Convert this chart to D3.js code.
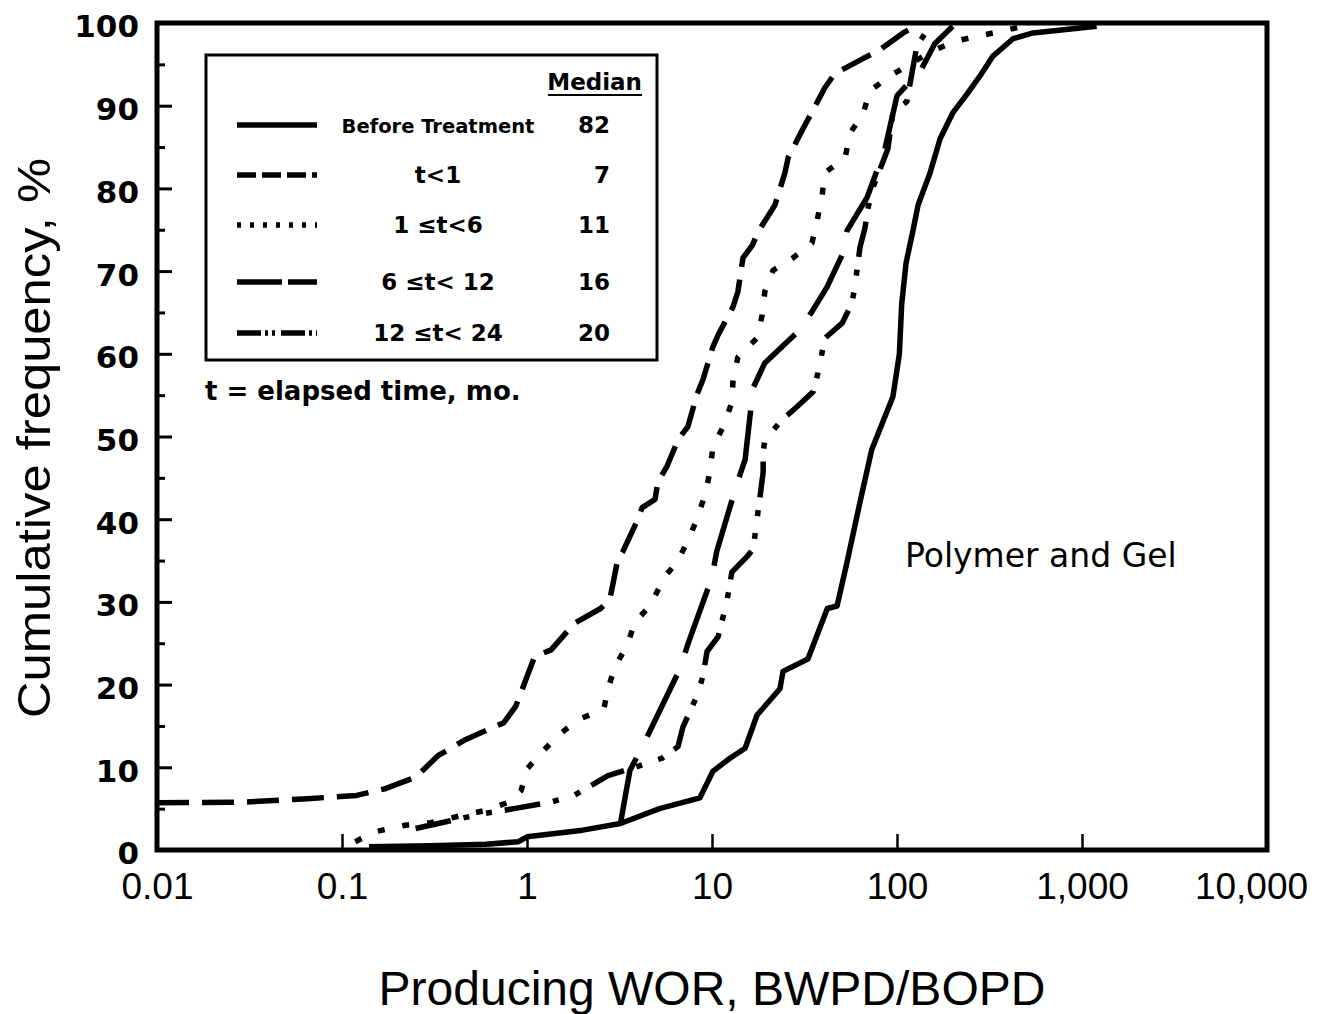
<!DOCTYPE html>
<html>
<head>
<meta charset="utf-8">
<script src="https://cdn.jsdelivr.net/npm/d3@7"></script>
<style>
body { margin: 0; background: #fff; }
</style>
</head>
<body>
<div id="chart"></div>
<script>
// tick values / labels
var xTicks = [0.01, 0.1, 1, 10, 100, 1000, 10000];
var xTickLabels = ['0.01', '0.1', '1', '10', '100', '1,000', '10,000'];
var yTicks = [0, 10, 20, 30, 40, 50, 60, 70, 80, 90, 100];
var yMinorTicks = [5, 15, 25, 35, 45, 55, 65, 75, 85, 95];

// cumulative frequency curves, [WOR, %]
var beforeTreatment = [
    [0.14, 0.4], [0.3, 0.5], [0.6, 0.7], [0.9, 1.0], [1.0, 1.6], [2.0, 2.4], [3.2, 3.2],
    [5.2, 5.0], [8.6, 6.3], [10.1, 9.5], [12.5, 11.1], [15.1, 12.3], [17.5, 16.3],
    [23.3, 19.5], [24.2, 21.6], [33, 23.1], [42, 29.2], [47.4, 29.5], [53.7, 34.8],
    [63, 42], [73, 48.4], [95, 54.8], [103, 60], [106, 66], [112, 71], [122, 74.9],
    [130, 78], [151, 81.9], [171, 86], [201, 89.2], [239, 91.4], [281, 93.6], [330, 96],
    [424, 98.1], [543, 98.8], [894, 99.3], [1200, 99.6]
];
var tLess1 = [
    [0.01, 5.7], [0.03, 5.8], [0.065, 6.2], [0.12, 6.6], [0.17, 7.4], [0.25, 8.8],
    [0.33, 11.4], [0.47, 13.4], [0.75, 15.4], [0.87, 17.4], [1.1, 23.4], [1.35, 24.2],
    [1.8, 27.4], [2.5, 29.2], [2.81, 30.4], [3.1, 35.2], [3.3, 36.1], [3.94, 39.8],
    [4.19, 41.4], [4.92, 42.4], [5.1, 44.5], [5.71, 46.4], [6.55, 49.6], [7.41, 51.2],
    [8.3, 55.1], [8.94, 56.9], [10.1, 60.8], [10.8, 62.3], [13.0, 65.7], [13.8, 67.5],
    [14.7, 71.6], [16.5, 73.1], [17.7, 74.7], [21.9, 78.0], [24.8, 81.9], [25.8, 83.7],
    [31.0, 87.2], [33.9, 88.8], [40.8, 92.2], [46.2, 93.9], [65.5, 95.7], [78.9, 96.6],
    [108, 98.8], [130, 99.8]
];
var t1to6 = [
    [0.118, 1.0], [0.15, 2.2], [0.22, 3.0], [0.3, 3.3], [0.45, 4.2], [0.6, 4.8], [0.8, 5.8],
    [0.93, 7.2], [1.0, 9.8], [1.2, 11.8], [1.5, 14], [1.9, 15.8], [2.6, 17], [2.74, 19.5],
    [2.99, 22.2], [3.47, 24.7], [3.84, 27.6], [4.62, 29.5], [5.57, 33.1], [6.47, 34.8],
    [7.33, 37.2], [8.3, 40.0], [9.17, 43.0], [9.75, 45.7], [10.1, 48.7], [11.5, 51.2],
    [12.8, 54.1], [13.0, 56.9], [13.8, 59.6], [17.5, 61.9], [18.6, 64.5], [19.3, 67.5],
    [21.4, 70.1], [27.4, 71.6], [34.7, 73.4], [37.0, 76.1], [39.4, 79.2], [40.8, 81.9],
    [52.4, 83.7], [55.8, 86.7], [65.5, 89.0], [71.4, 91.8], [91.6, 93.6], [155, 96.6],
    [206, 97.8], [274, 98.4], [365, 99.0], [524, 99.8]
];
var t6to12 = [
    [3.2, 3.2], [3.6, 9.6], [4.0, 11.6], [4.51, 13.9], [6.71, 21.9], [7.41, 24.9], [10, 33.0],
    [10.6, 36.1], [13.6, 44.2], [15.1, 47.2], [16.7, 55.9], [19.3, 58.9], [29.9, 62.9],
    [34.7, 65.1], [41.9, 68.1], [51.1, 72.2], [53.7, 74.9], [68.9, 78.9], [86.1, 84.8],
    [100, 91.2], [136, 94.5], [160, 97.5], [200, 99.6]
];
var t12to24 = [
    [0.25, 2.6], [0.38, 3.5], [0.55, 4.3], [0.85, 5.0], [1.35, 5.8], [1.8, 6.6], [2.3, 8.0],
    [2.74, 9.0], [4.08, 10.2], [5.37, 11.1], [6.55, 12.5], [6.97, 14.9], [8.4, 18.9],
    [8.94, 21.1], [9.4, 24.0], [10.8, 25.8], [12.05, 30.1], [12.8, 33.6], [15.5, 35.5],
    [16.7, 36.4], [17.7, 40.8], [18.2, 42.8], [18.9, 45.7], [18.9, 48.1], [19.3, 49.6],
    [23.9, 52.0], [28.8, 53.6], [35.2, 55.4], [37.4, 57.7], [40.8, 61.9], [50.5, 63.7],
    [57.1, 66.1], [59.3, 68.3], [63.1, 72.9], [67.1, 75.2], [69.7, 77.6], [73.3, 79.8],
    [89.3, 84.8], [95, 89.2], [113, 90.5], [128, 97.2], [150, 99.6]
];

// legend
var seriesNames = ['Before Treatment', 't<1', '1 \u2264t<6', '6 \u2264t< 12', '12 \u2264t< 24'];
var seriesMedians = ['82', '7', '11', '16', '20'];

var series = [beforeTreatment, tLess1, t1to6, t6to12, t12to24];
var curveDash = ['none', '32,13', '7,18', '68,24', '36,13,6,17,6,13'];
var legendDash = ['none', '19,6', '4,9', '45,6', '24,4,3,4,3,6'];

var width = 1322;
var height = 1014;
var plotLeft = 157, plotRight = 1267, plotTop = 23, plotBottom = 850;

var tickFont = "'Liberation Sans', Arial, sans-serif";
var wideFont = "'DejaVu Sans', Verdana, sans-serif";

var svg = d3.select('#chart')
    .append('svg')
    .attr('width', width)
    .attr('height', height);

var x = d3.scaleLog().domain([0.01, 10000]).range([plotLeft, plotRight]);
var y = d3.scaleLinear().domain([0, 100]).range([plotBottom, plotTop]);

function drawAxes() {
    var xAxis = svg.append('g')
        .attr('transform', 'translate(0,' + plotBottom + ')')
        .call(d3.axisBottom(x)
            .tickValues(xTicks)
            .tickFormat(function(d, i) { return xTickLabels[i]; })
            .tickSizeInner(-16)
            .tickSizeOuter(0)
            .tickPadding(23));
    xAxis.select('.domain').remove();
    xAxis.selectAll('line').attr('stroke', '#000').attr('stroke-width', 2.5);
    xAxis.selectAll('text')
        .style('font-family', tickFont)
        .style('font-size', '37px')
        .attr('fill', '#000');
    xAxis.selectAll('.tick:last-of-type text').attr('dx', -16);

    var yAxis = svg.append('g')
        .attr('transform', 'translate(' + plotLeft + ',0)')
        .call(d3.axisLeft(y)
            .tickValues(yTicks)
            .tickSizeInner(-15)
            .tickSizeOuter(0)
            .tickPadding(18));
    yAxis.select('.domain').remove();
    yAxis.selectAll('line').attr('stroke', '#000').attr('stroke-width', 3);
    yAxis.selectAll('text')
        .attr('dy', '0.45em')
        .style('font-family', wideFont)
        .style('font-weight', 'bold')
        .style('font-size', '31px')
        .attr('fill', '#000');

    var yMinor = svg.append('g')
        .attr('transform', 'translate(' + plotLeft + ',0)')
        .call(d3.axisLeft(y)
            .tickValues(yMinorTicks)
            .tickSizeInner(-8)
            .tickSizeOuter(0)
            .tickFormat(''));
    yMinor.select('.domain').remove();
    yMinor.selectAll('line').attr('stroke', '#000').attr('stroke-width', 3);

    svg.append('rect')
        .attr('x', plotLeft)
        .attr('y', plotTop)
        .attr('width', plotRight - plotLeft)
        .attr('height', plotBottom - plotTop)
        .attr('fill', 'none')
        .attr('stroke', '#000')
        .attr('stroke-width', 5);
}

function drawCurves() {
    svg.append('clipPath')
        .attr('id', 'plot-clip')
        .append('rect')
        .attr('x', plotLeft)
        .attr('y', plotTop)
        .attr('width', plotRight - plotLeft)
        .attr('height', plotBottom - plotTop);

    var line = d3.line()
        .x(function(d) { return x(d[0]); })
        .y(function(d) { return y(d[1]); });

    svg.append('g')
        .attr('clip-path', 'url(#plot-clip)')
        .selectAll('.curve')
        .data(series)
        .enter().append('path')
        .attr('class', 'curve')
        .attr('d', line)
        .attr('fill', 'none')
        .attr('stroke', '#000')
        .attr('stroke-width', 5.5)
        .attr('stroke-linejoin', 'round')
        .attr('stroke-dasharray', function(d, i) { return curveDash[i]; });
}

function drawLegend() {
    var rowY = [125, 175, 225, 282, 333];
    var legend = svg.append('g').attr('class', 'legend');

    legend.append('rect')
        .attr('x', 206)
        .attr('y', 55)
        .attr('width', 451)
        .attr('height', 305)
        .attr('fill', '#fff')
        .attr('stroke', '#000')
        .attr('stroke-width', 3);

    legend.append('text')
        .attr('x', 642)
        .attr('y', 90)
        .attr('text-anchor', 'end')
        .style('font-family', wideFont)
        .style('font-weight', 'bold')
        .style('font-size', '23px')
        .text('Median');
    legend.append('line')
        .attr('x1', 548).attr('x2', 642)
        .attr('y1', 95).attr('y2', 95)
        .attr('stroke', '#000')
        .attr('stroke-width', 2);

    var row = legend.selectAll('.row')
        .data(seriesNames)
        .enter().append('g')
        .attr('class', 'row')
        .attr('transform', function(d, i) { return 'translate(0,' + rowY[i] + ')'; });

    row.append('line')
        .attr('x1', 237).attr('x2', 317)
        .attr('y1', 0).attr('y2', 0)
        .attr('stroke', '#000')
        .attr('stroke-width', 5.5)
        .attr('stroke-dasharray', function(d, i) { return legendDash[i]; });

    row.append('text')
        .attr('x', 438)
        .attr('y', 8)
        .attr('text-anchor', 'middle')
        .style('font-family', wideFont)
        .style('font-weight', 'bold')
        .style('font-size', function(d, i) { return i === 0 ? '19.5px' : '23px'; })
        .text(function(d) { return d; });

    row.append('text')
        .attr('x', 610)
        .attr('y', 8)
        .attr('text-anchor', 'end')
        .style('font-family', wideFont)
        .style('font-weight', 'bold')
        .style('font-size', '23px')
        .text(function(d, i) { return seriesMedians[i]; });

    svg.append('text')
        .attr('x', 205)
        .attr('y', 400)
        .style('font-family', wideFont)
        .style('font-weight', 'bold')
        .style('font-size', '26px')
        .text('t = elapsed time, mo.');
}

function drawLabels() {
    svg.append('text')
        .attr('x', 905)
        .attr('y', 567)
        .style('font-family', wideFont)
        .style('font-size', '33px')
        .text('Polymer and Gel');

    svg.append('text')
        .attr('x', 712)
        .attr('y', 1005)
        .attr('text-anchor', 'middle')
        .style('font-family', tickFont)
        .style('font-size', '48px')
        .text('Producing WOR, BWPD/BOPD');

    svg.append('text')
        .attr('transform', 'translate(50,438) rotate(-90)')
        .attr('text-anchor', 'middle')
        .attr('textLength', 560)
        .attr('lengthAdjust', 'spacingAndGlyphs')
        .style('font-family', tickFont)
        .style('font-size', '46px')
        .text('Cumulative frequency, %');
}

drawAxes();
drawCurves();
drawLegend();
drawLabels();
</script>
</body>
</html>
